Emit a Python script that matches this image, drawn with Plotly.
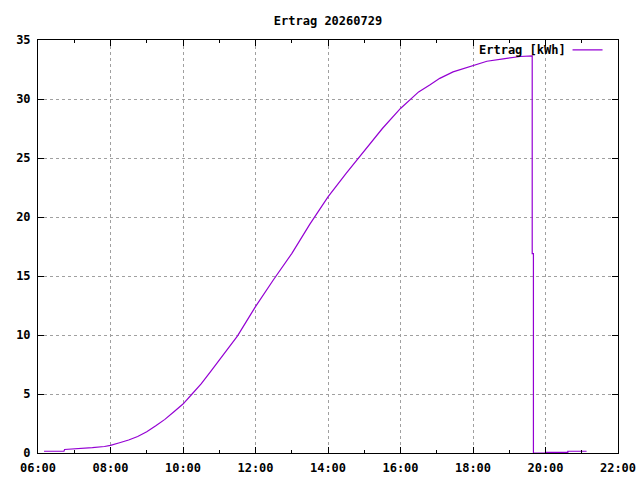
import plotly.graph_objects as go

day = '2026-07-29 '
times = ['06:10', '06:43', '06:44', '07:10', '07:30', '07:50', '08:00', '08:15',
         '08:30', '08:45', '09:00', '09:15', '09:30', '09:45', '10:00', '10:15',
         '10:30', '10:45', '11:00', '11:15', '11:30', '11:45', '12:00', '12:30',
         '13:00', '13:30', '14:00', '14:30', '15:00', '15:30', '16:00', '16:30',
         '16:49', '17:05', '17:27', '18:00', '18:23', '18:50', '19:18', '19:38',
         '19:38', '19:40', '19:40', '20:00', '20:00', '20:37', '20:37', '21:08']
ertrag = [0.15, 0.15, 0.30, 0.35, 0.45, 0.55, 0.65, 0.87,
          1.10, 1.40, 1.80, 2.30, 2.85, 3.50, 4.15, 5.00,
          5.85, 6.85, 7.90, 8.90, 9.90, 11.15, 12.40, 14.70,
          16.90, 19.40, 21.70, 23.70, 25.60, 27.50, 29.20, 30.60,
          31.20, 31.75, 32.30, 32.80, 33.20, 33.40, 33.60, 33.65,
          16.90, 16.90, 0.0, 0.0, 0.05, 0.05, 0.15, 0.15]
x = [day + t for t in times]

y_ticks = [0, 5, 10, 15, 20, 25, 30, 35]
font = dict(family='DejaVu Sans Mono', size=12, color='black', weight='bold')
violet = '#9400d3'

fig = go.Figure()
fig.add_trace(go.Scatter(x=x, y=ertrag, name='Ertrag [kWh]', mode='lines',
                         line=dict(color=violet, width=1.2), showlegend=False))
# legend sample only (gnuplot puts the text left of the line)
fig.add_trace(go.Scatter(x=[None], y=[None], name='', mode='lines',
                         line=dict(color=violet, width=1.2)))

axis = dict(showline=True, linecolor='black', linewidth=1, mirror='ticks',
            ticks='inside', ticklen=6, tickcolor='black', automargin=False,
            showgrid=True, gridcolor='#a0a0a0', griddash='3px,3px', gridwidth=1,
            zeroline=False, tickfont=font)

fig.update_xaxes(**axis, type='date', range=[day + '06:00', day + '22:00'],
                 dtick=2 * 3600000, tick0=day + '06:00', tickformat='%H:%M',
                 ticklabelstandoff=4,
                 minor=dict(ticks='inside', ticklen=3, dtick=3600000, tickcolor='black'))
fig.update_yaxes(**axis, range=[0, 35], tickvals=y_ticks, ticklabelstandoff=4)

fig.add_annotation(text='Ertrag [kWh]', xref='paper', yref='paper', x=0.914, y=0.976,
                   xanchor='right', yanchor='middle', showarrow=False, font=font)

fig.update_layout(
    width=640, height=480,
    margin=dict(l=38, r=22, t=40, b=27),
    paper_bgcolor='white', plot_bgcolor='white',
    title=dict(text='Ertrag 20260729', x=0.5, xref='paper', y=1 - 17 / 480,
               yref='container', yanchor='top', font=font),
    legend=dict(x=0.913, y=0.976, xanchor='left', yanchor='middle',
                bgcolor='rgba(0,0,0,0)', itemwidth=30, font=font),
    hovermode=False,
)

fig.write_html('out.html', config={'displayModeBar': False},
               post_script="document.body.style.margin='0';")
